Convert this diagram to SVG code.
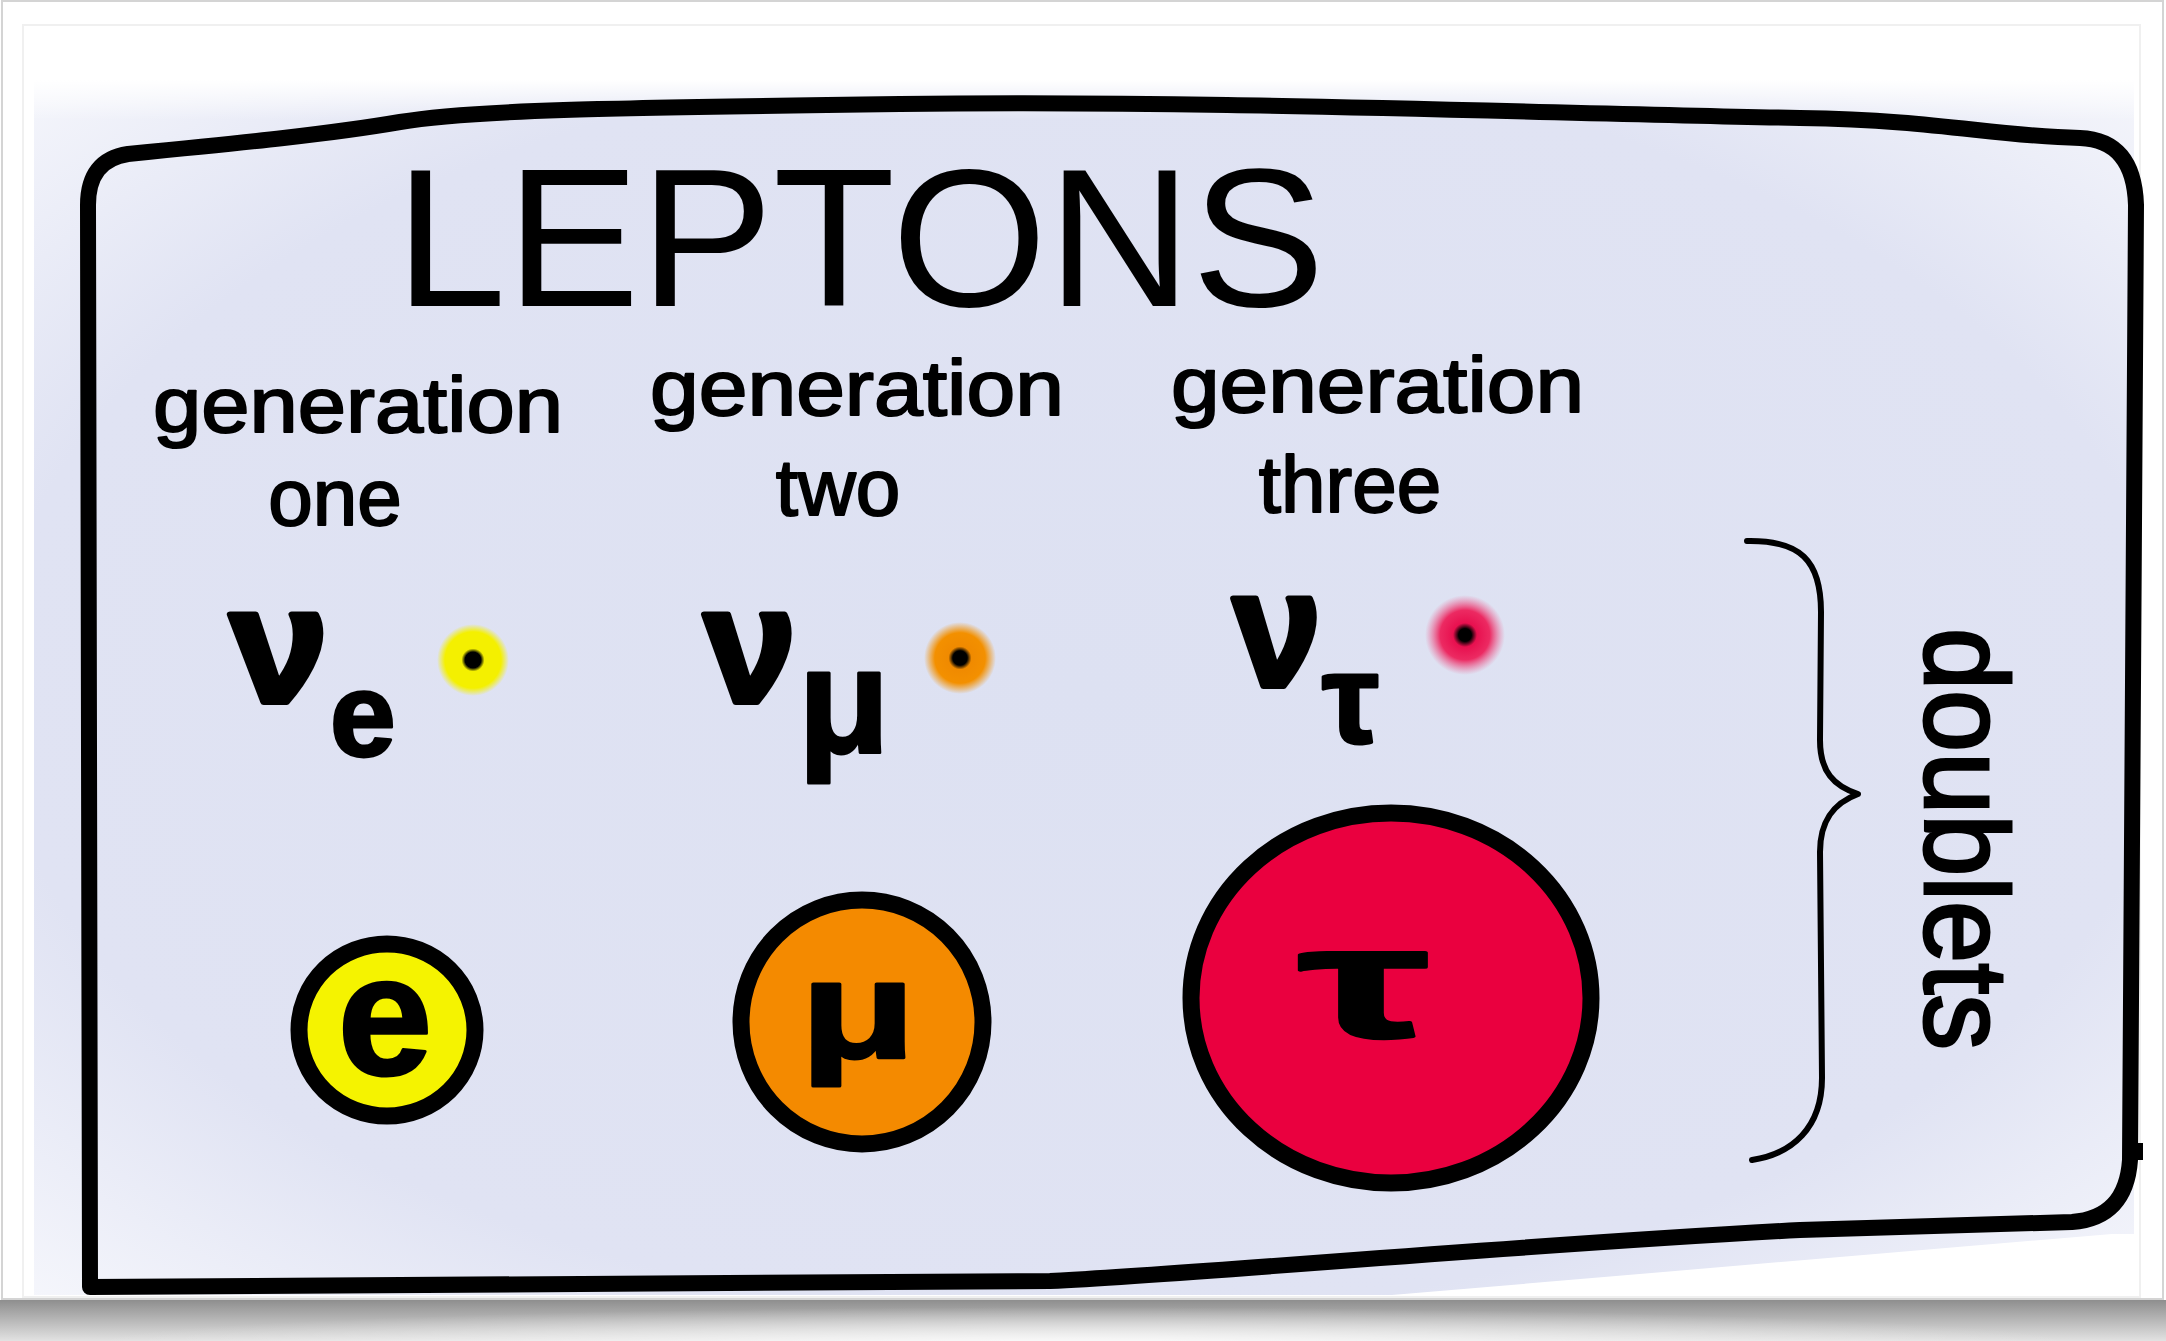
<svg xmlns="http://www.w3.org/2000/svg" width="2166" height="1341" viewBox="0 0 2166 1341">
  <style>
    .hand { font-family: "Liberation Sans", Arial, sans-serif; fill: #000; }
    .lbl { font-size: 78px; stroke: #000; stroke-width: 2; stroke-linejoin: round; }
    .sub { font-size: 80px; stroke: #000; stroke-width: 2; stroke-linejoin: round; }
    .greek { font-weight: bold; stroke: #000; stroke-width: 3; stroke-linejoin: round; }
    .nu { font-weight: bold; stroke: #000; stroke-width: 6; stroke-linejoin: round; }
    .ring { stroke: #000; stroke-width: 17; }
    .ink { fill: none; stroke: #000; stroke-linecap: round; stroke-linejoin: round; }
  </style>
  <defs>
    <radialGradient id="bg" cx="0.5" cy="0.5" r="0.72">
      <stop offset="0" stop-color="#dde1f2"/>
      <stop offset="0.72" stop-color="#e0e3f3"/>
      <stop offset="1" stop-color="#f6f7fc"/>
    </radialGradient>
    <linearGradient id="topfade" x1="0" y1="0" x2="0" y2="1">
      <stop offset="0" stop-color="#ffffff" stop-opacity="1"/>
      <stop offset="1" stop-color="#ffffff" stop-opacity="0"/>
    </linearGradient>
    <linearGradient id="shadow" x1="0" y1="0" x2="0" y2="1">
      <stop offset="0" stop-color="#8e8e8e"/>
      <stop offset="1" stop-color="#e2e2e2"/>
    </linearGradient>
    <radialGradient id="shadowLight" cx="0.5" cy="0.5" r="0.5">
      <stop offset="0" stop-color="#ffffff" stop-opacity="0.85"/>
      <stop offset="1" stop-color="#ffffff" stop-opacity="0"/>
    </radialGradient>
    <radialGradient id="dotY" cx="0.5" cy="0.5" r="0.5">
      <stop offset="0" stop-color="#000"/>
      <stop offset="0.22" stop-color="#000"/>
      <stop offset="0.32" stop-color="#f4f000"/>
      <stop offset="0.78" stop-color="#f4f000"/>
      <stop offset="1" stop-color="#f4f000" stop-opacity="0"/>
    </radialGradient>
    <radialGradient id="dotO" cx="0.5" cy="0.5" r="0.5">
      <stop offset="0" stop-color="#000"/>
      <stop offset="0.2" stop-color="#000"/>
      <stop offset="0.32" stop-color="#f08a00"/>
      <stop offset="0.7" stop-color="#f39000"/>
      <stop offset="1" stop-color="#f39000" stop-opacity="0"/>
    </radialGradient>
    <radialGradient id="dotR" cx="0.5" cy="0.5" r="0.5">
      <stop offset="0" stop-color="#000"/>
      <stop offset="0.16" stop-color="#000"/>
      <stop offset="0.3" stop-color="#e8104f"/>
      <stop offset="0.62" stop-color="#ec2a62"/>
      <stop offset="1" stop-color="#f06090" stop-opacity="0"/>
    </radialGradient>
  </defs>

  <!-- page -->
  <rect x="0" y="0" width="2166" height="1341" fill="#ffffff"/>
  <rect x="2" y="1" width="2161" height="1298" fill="none" stroke="#d4d4d4" stroke-width="2"/>
  <rect x="23" y="25" width="2117" height="1272" fill="none" stroke="#f0f0f0" stroke-width="2"/>
  <rect x="34" y="80" width="2100" height="1215" fill="url(#bg)"/>
  <rect x="34" y="80" width="2100" height="40" fill="url(#topfade)"/>
  <polygon points="1380,1296 2112,1234 2136,1234 2136,1296" fill="#ffffff"/>
  <rect x="0" y="1300" width="2166" height="41" fill="url(#shadow)"/>
  <ellipse cx="1083" cy="1345" rx="1000" ry="38" fill="url(#shadowLight)"/>

  <!-- frame -->
  <g id="frame">
    <path class="ink" stroke-width="16" d="M 90,1287 L 88,205 Q 88,160 128,154 C 250,142 330,134 400,122 C 470,110 600,108 900,104 C 1200,100 1500,112 1800,118 C 1940,120 1990,136 2080,138 Q 2134,140 2136,205 L 2130,1160 Q 2126,1218 2072,1222 L 1800,1230 C 1500,1246 1200,1274 1050,1281 L 90,1287 Z"/>
    <rect x="2130" y="1143" width="13" height="17" fill="#000"/>
  </g>

  <!-- title -->
  <g id="title">
    <text class="hand" x="395" y="306" font-size="196" textLength="930" lengthAdjust="spacingAndGlyphs">LEPTONS</text>
  </g>

  <!-- generation one -->
  <g id="gen-one">
    <text class="hand lbl" x="153" y="432" textLength="410" lengthAdjust="spacingAndGlyphs">generation</text>
    <text class="hand sub" x="335" y="525" text-anchor="middle">one</text>
    <g id="nu-e">
      <text class="hand nu" x="230" y="702" font-size="165" textLength="98" lengthAdjust="spacingAndGlyphs">ν</text>
      <text class="hand greek" x="330" y="756" font-size="118">e</text>
    </g>
    <circle cx="473" cy="660" r="36" fill="url(#dotY)"/>
    <g id="electron">
      <ellipse class="ring" cx="387" cy="1030" rx="88" ry="86" fill="#f5f300"/>
      <text class="hand greek" x="385" y="1074" font-size="170" text-anchor="middle">e</text>
    </g>
  </g>

  <!-- generation two -->
  <g id="gen-two">
    <text class="hand lbl" x="650" y="415" textLength="414" lengthAdjust="spacingAndGlyphs">generation</text>
    <text class="hand sub" x="838" y="515" text-anchor="middle">two</text>
    <g id="nu-mu">
      <text class="hand nu" x="704" y="702" font-size="165" textLength="92" lengthAdjust="spacingAndGlyphs">ν</text>
      <text class="hand greek" x="798" y="752" font-size="150">μ</text>
    </g>
    <circle cx="960" cy="658" r="36" fill="url(#dotO)"/>
    <g id="muon">
      <ellipse class="ring" cx="862" cy="1022" rx="121" ry="122" fill="#f48a00"/>
      <text class="hand greek" x="800" y="1058" font-size="140" textLength="116" lengthAdjust="spacingAndGlyphs">μ</text>
    </g>
  </g>

  <!-- generation three -->
  <g id="gen-three">
    <text class="hand lbl" x="1171" y="412" textLength="413" lengthAdjust="spacingAndGlyphs">generation</text>
    <text class="hand sub" x="1350" y="512" text-anchor="middle">three</text>
    <g id="nu-tau">
      <text class="hand nu" x="1233" y="686" font-size="165" textLength="88" lengthAdjust="spacingAndGlyphs">ν</text>
      <text class="hand greek" x="1322" y="743" font-size="128">τ</text>
    </g>
    <circle cx="1465" cy="635" r="40" fill="url(#dotR)"/>
    <g id="tau">
      <ellipse class="ring" cx="1391" cy="998" rx="200" ry="185" fill="#ea003f"/>
      <text class="hand greek" x="1298" y="1037" font-size="160" textLength="132" lengthAdjust="spacingAndGlyphs">τ</text>
    </g>
  </g>

  <!-- doublets brace -->
  <g id="doublets">
    <path class="ink" stroke-width="6" d="M 1747,541 C 1800,540 1821,560 1821,612 L 1820,740 C 1820,772 1834,786 1858,794 C 1834,803 1820,820 1820,852 L 1822,1078 C 1822,1128 1792,1154 1752,1160"/>
    <text class="hand" transform="translate(1925,628) rotate(90)" x="0" y="0" font-size="118" textLength="422" lengthAdjust="spacingAndGlyphs" stroke="#000" stroke-width="3">doublets</text>
  </g>
</svg>
